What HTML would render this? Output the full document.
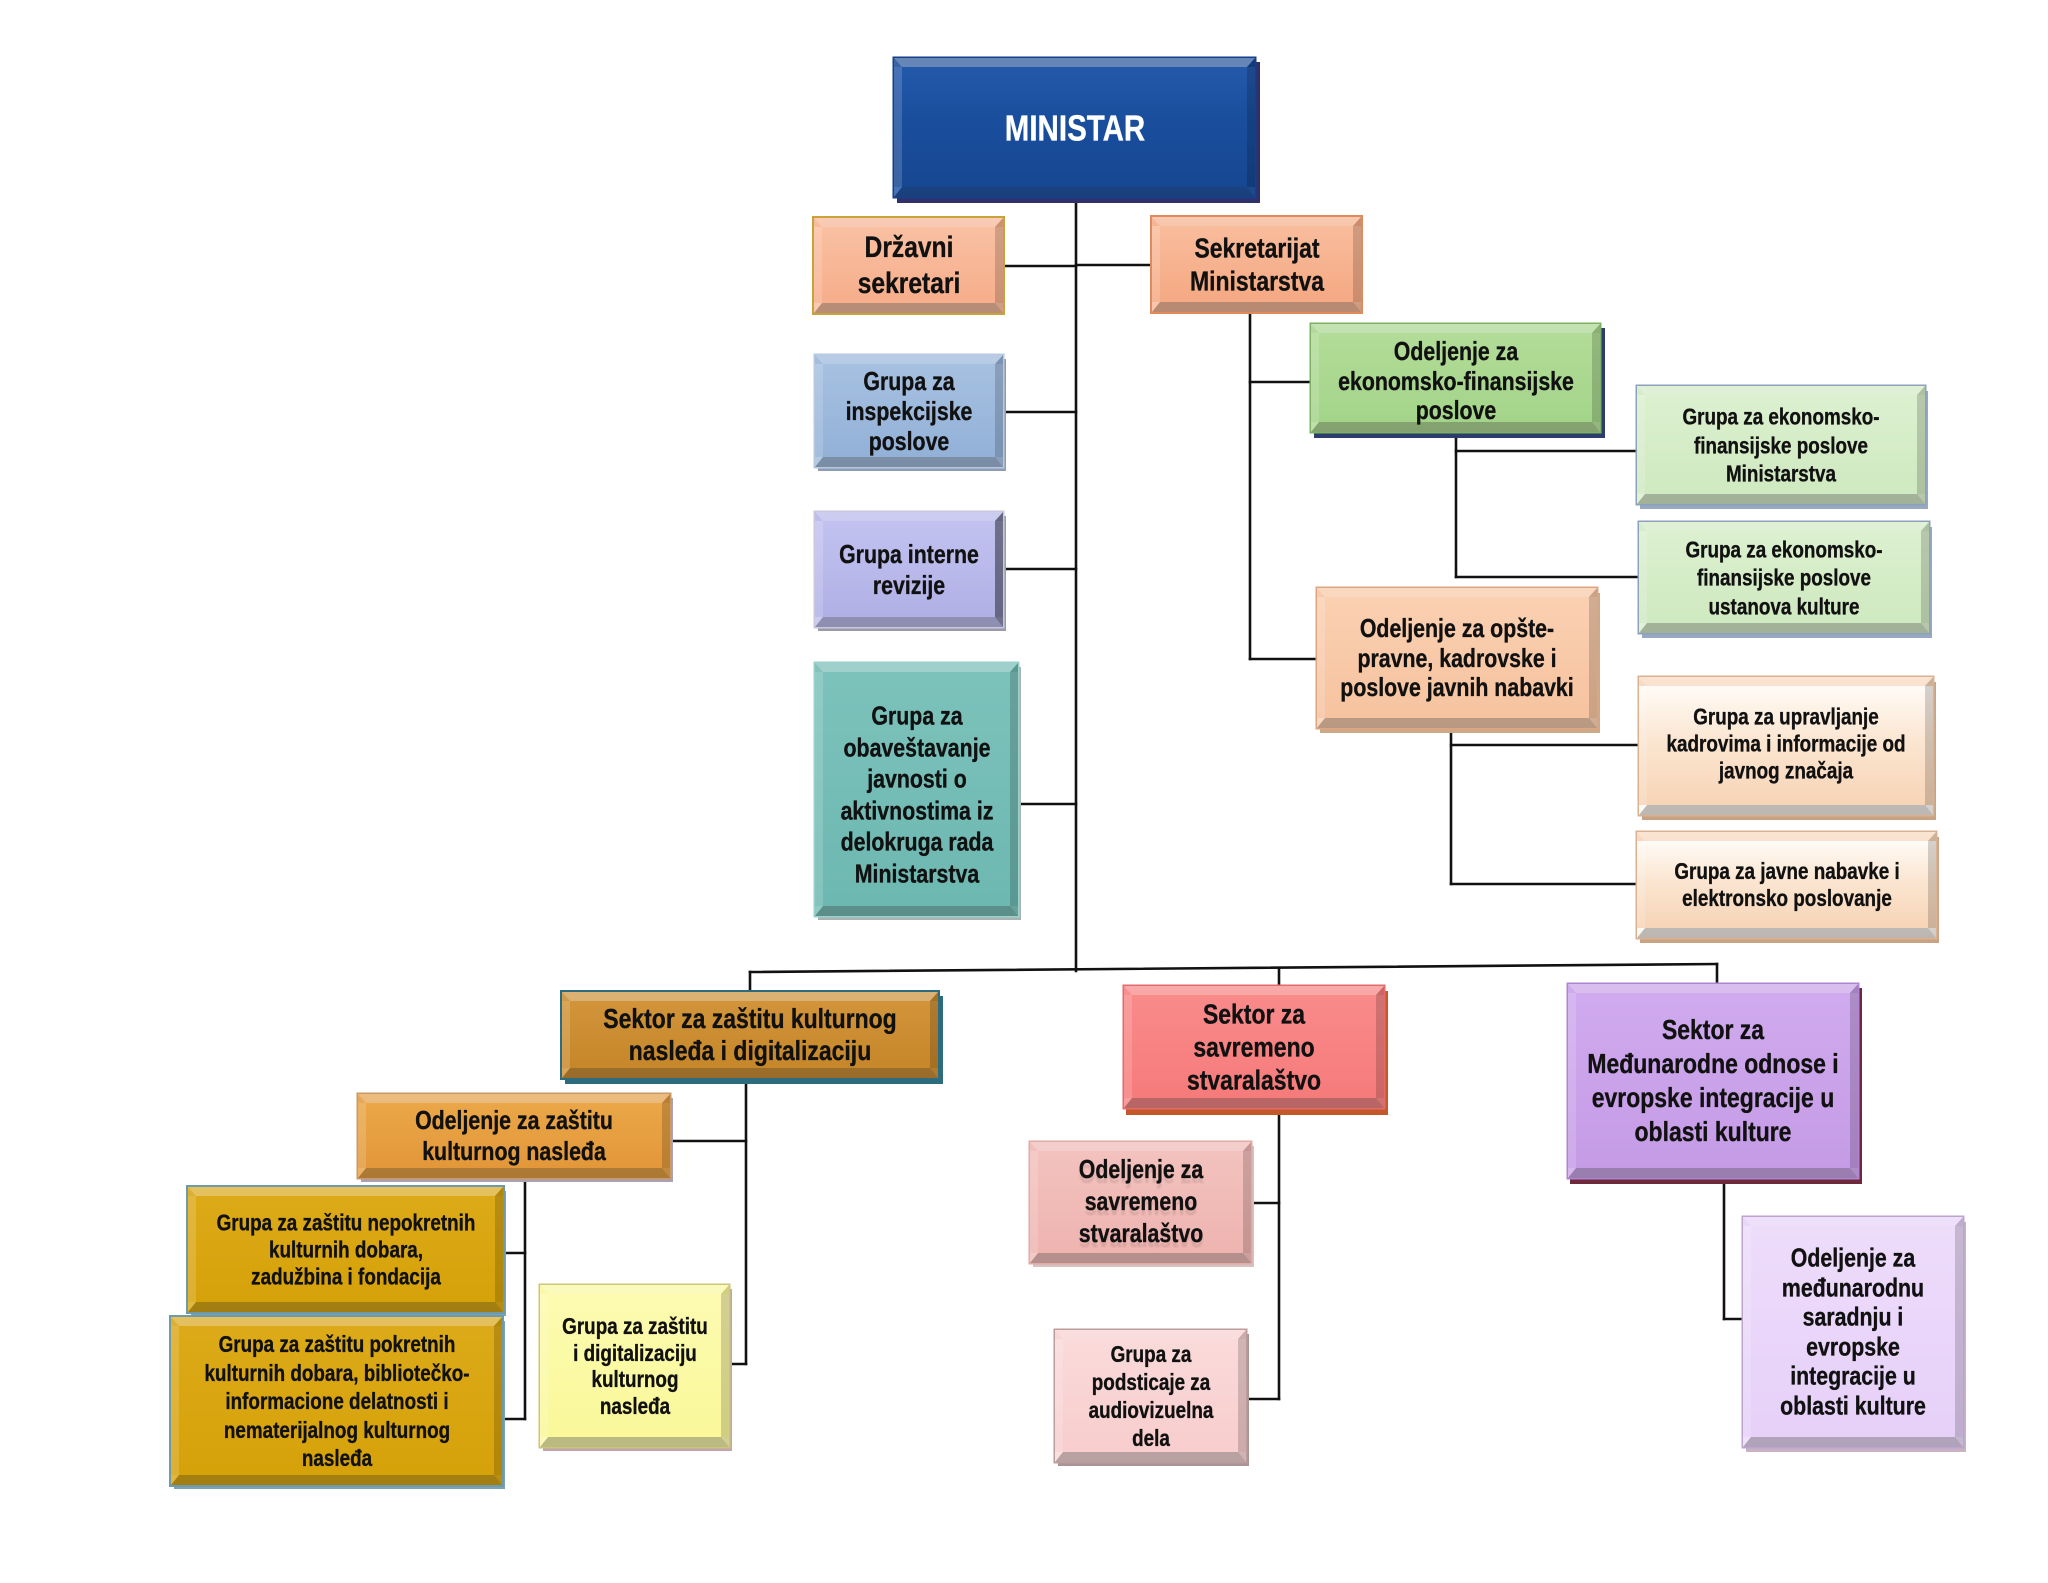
<!DOCTYPE html>
<html>
<head>
<meta charset="utf-8">
<style>
html,body{margin:0;padding:0;background:#fff;}
#c{position:relative;width:2048px;height:1583px;overflow:hidden;background:#fff;}
svg{position:absolute;left:0;top:0;}
.b{position:absolute;box-sizing:border-box;border-style:solid;border-width:9px 8px 10px 8px;
border-color:rgba(255,255,255,.34) rgba(0,0,0,.17) rgba(0,0,0,.26) rgba(255,255,255,.16);
background-origin:border-box;}
.t{position:absolute;transform:translate(-50%,-50%) scaleX(.82);white-space:nowrap;text-align:center;
font-family:"Liberation Sans",Arial,sans-serif;font-weight:bold;color:#111;line-height:1.2;
-webkit-text-stroke:0.35px #111;}
</style>
</head>
<body>
<div id="c">
<svg width="2048" height="1583" viewBox="0 0 2048 1583">
<g stroke="#111" stroke-width="2.6" fill="none" stroke-linecap="square">
<line x1="1076" y1="197" x2="1076" y2="971"/>
<line x1="1003" y1="266" x2="1076" y2="266"/>
<line x1="1076" y1="265" x2="1152" y2="265"/>
<line x1="1003" y1="412" x2="1076" y2="412"/>
<line x1="1003" y1="569" x2="1076" y2="569"/>
<line x1="1018" y1="804" x2="1076" y2="804"/>
<line x1="1250" y1="312" x2="1250" y2="659"/>
<line x1="1250" y1="382" x2="1311" y2="382"/>
<line x1="1250" y1="659" x2="1317" y2="659"/>
<line x1="1456" y1="432" x2="1456" y2="577"/>
<line x1="1456" y1="451" x2="1637" y2="451"/>
<line x1="1456" y1="577" x2="1639" y2="577"/>
<line x1="1451" y1="728" x2="1451" y2="884"/>
<line x1="1451" y1="745" x2="1639" y2="745"/>
<line x1="1451" y1="884" x2="1637" y2="884"/>
<line x1="750" y1="972" x2="1717" y2="964"/>
<line x1="750" y1="972" x2="750" y2="992"/>
<line x1="1279" y1="968" x2="1279" y2="986"/>
<line x1="1717" y1="964" x2="1717" y2="984"/>
<line x1="746" y1="1078" x2="746" y2="1364"/>
<line x1="670" y1="1141" x2="746" y2="1141"/>
<line x1="729" y1="1364" x2="746" y2="1364"/>
<line x1="525" y1="1178" x2="525" y2="1419"/>
<line x1="503" y1="1253" x2="525" y2="1253"/>
<line x1="502" y1="1419" x2="525" y2="1419"/>
<line x1="1279" y1="1108" x2="1279" y2="1399"/>
<line x1="1251" y1="1203" x2="1279" y2="1203"/>
<line x1="1246" y1="1399" x2="1279" y2="1399"/>
<line x1="1724" y1="1178" x2="1724" y2="1319"/>
<line x1="1724" y1="1319" x2="1743" y2="1319"/>
</g>
</svg>

<div class="b" style="left:894px;top:58px;width:361px;height:139px;background:linear-gradient(#2459aa,#1a4f9e 40%,#164792);box-shadow:0 0 0 1.5px #163e8a,4px 5px 0 1px #30306a;"></div>
<div class="t" style="left:1075px;top:128px;font-size:36px;color:#fff;-webkit-text-stroke:0.35px #fff;">MINISTAR</div>

<div class="b" style="left:814px;top:218px;width:189px;height:95px;background:linear-gradient(#f9c0a2,#f6ae8b);box-shadow:0 0 0 2px #c9a23a;"></div>
<div class="t" style="left:908.5px;top:265.5px;font-size:30px;">Državni<br>sekretari</div>

<div class="b" style="left:1152px;top:217px;width:209px;height:95px;background:linear-gradient(#f9bc9c,#f4a983);box-shadow:0 0 0 2px #e08a5e;"></div>
<div class="t" style="left:1256.5px;top:264.5px;font-size:28px;">Sekretarijat<br>Ministarstva</div>

<div class="b" style="left:815px;top:355px;width:188px;height:112px;background:linear-gradient(#a6c0e0,#93b1d8);box-shadow:0 0 0 1.5px #b8c8e0,3px 4px 0 0 #8c9cb2;"></div>
<div class="t" style="left:909px;top:411px;font-size:26px;line-height:30px;">Grupa za<br>inspekcijske<br>poslove</div>

<div class="b" style="left:815px;top:512px;width:188px;height:115px;background:linear-gradient(#c2c2f0,#b0b0e6);border-right-color:rgba(0,0,0,.42);box-shadow:0 0 0 1.5px #c8c8e0,3px 4px 0 0 #9a9aa8;"></div>
<div class="t" style="left:909px;top:569.5px;font-size:26px;line-height:31px;">Grupa interne<br>revizije</div>

<div class="b" style="left:815px;top:663px;width:203px;height:253px;background:linear-gradient(#7cc2bb,#6db8b1);box-shadow:0 0 0 1.5px #98d2ca,3px 4px 0 0 #a8b4b4;"></div>
<div class="t" style="left:916.5px;top:795px;font-size:26px;line-height:31.5px;">Grupa za<br>obaveštavanje<br>javnosti o<br>aktivnostima iz<br>delokruga rada<br>Ministarstva</div>

<div class="b" style="left:1311px;top:324px;width:289px;height:108px;background:linear-gradient(#b2dc98,#a4d48a);box-shadow:0 0 0 1.5px #7cb062,4px 5px 0 1px #2c3c6c;"></div>
<div class="t" style="left:1455.5px;top:381px;font-size:26px;line-height:29.5px;">Odeljenje za<br>ekonomsko-finansijske<br>poslove</div>

<div class="b" style="left:1637px;top:386px;width:288px;height:118px;background:linear-gradient(#dcf0d0,#cfe9c0);box-shadow:0 0 0 1.5px #8ca2bc,3px 5px 0 0 #98a8c0;"></div>
<div class="t" style="left:1781px;top:445px;font-size:23px;line-height:28.5px;">Grupa za ekonomsko-<br>finansijske poslove<br>Ministarstva</div>

<div class="b" style="left:1639px;top:522px;width:290px;height:111px;background:linear-gradient(#dcf0d0,#cfe9c0);box-shadow:0 0 0 1.5px #8ca2bc,3px 5px 0 0 #98a8c0;"></div>
<div class="t" style="left:1784px;top:577.5px;font-size:23px;line-height:28.5px;">Grupa za ekonomsko-<br>finansijske poslove<br>ustanova kulture</div>

<div class="b" style="left:1317px;top:588px;width:280px;height:140px;background:linear-gradient(#fad0b2,#f6c39f);box-shadow:0 0 0 1.5px #dca580,3px 5px 0 0 #ccaa88;"></div>
<div class="t" style="left:1457px;top:658px;font-size:26px;line-height:29.5px;">Odeljenje za opšte-<br>pravne, kadrovske i<br>poslove javnih nabavki</div>

<div class="b" style="left:1639px;top:677px;width:294px;height:138px;background:linear-gradient(#fffbf6,#fbe6d2 45%,#f7d4b6);box-shadow:0 0 0 1.5px #dab292,3px 5px 0 0 #c8a282;"></div>
<div class="t" style="left:1786px;top:744px;font-size:23px;line-height:27px;">Grupa za upravljanje<br>kadrovima i informacije od<br>javnog značaja</div>

<div class="b" style="left:1637px;top:832px;width:299px;height:106px;background:linear-gradient(#fffbf6,#fbe6d2 45%,#f7d4b6);box-shadow:0 0 0 1.5px #dab292,3px 5px 0 0 #c8a282;"></div>
<div class="t" style="left:1786.5px;top:885px;font-size:23px;line-height:27px;">Grupa za javne nabavke i<br>elektronsko poslovanje</div>

<div class="b" style="left:562px;top:992px;width:376px;height:86px;background:linear-gradient(#d2943a,#c6872a);box-shadow:0 0 0 2px #2c6c7e,4px 5px 0 1px #2c6c7e;"></div>
<div class="t" style="left:750px;top:1035px;font-size:28px;line-height:32px;">Sektor za zaštitu kulturnog<br>nasleđa i digitalizaciju</div>

<div class="b" style="left:1124px;top:986px;width:260px;height:122px;background:linear-gradient(#f98a8a,#f67b7b);box-shadow:0 0 0 1.5px #e46a6a,3px 6px 0 1px #c4582a;"></div>
<div class="t" style="left:1254px;top:1047px;font-size:28px;line-height:33px;">Sektor za<br>savremeno<br>stvaralaštvo</div>

<div class="b" style="left:1568px;top:984px;width:290px;height:194px;background:linear-gradient(#d0aaee,#c59be6);box-shadow:0 0 0 1.5px #b084d4,3px 5px 0 1px #6e2a3a;"></div>
<div class="t" style="left:1713px;top:1081px;font-size:28px;line-height:34px;">Sektor za<br>Međunarodne odnose i<br>evropske integracije u<br>oblasti kulture</div>

<div class="b" style="left:358px;top:1094px;width:312px;height:84px;background:linear-gradient(#eaa648,#e2983a);box-shadow:0 0 0 1.5px #c89a6a,3px 4px 0 0 #aaa2b4;"></div>
<div class="t" style="left:514px;top:1136px;font-size:26px;line-height:31px;">Odeljenje za zaštitu<br>kulturnog nasleđa</div>

<div class="b" style="left:188px;top:1187px;width:315px;height:125px;background:linear-gradient(#dcaa18,#d6a20a);box-shadow:0 0 0 2px #6e9aaa,3px 4px 0 0 #7aa4b2;"></div>
<div class="t" style="left:345.5px;top:1249.5px;font-size:23px;line-height:27px;">Grupa za zaštitu nepokretnih<br>kulturnih dobara,<br>zadužbina i fondacija</div>

<div class="b" style="left:171px;top:1317px;width:331px;height:168px;background:linear-gradient(#dcaa18,#d6a20a);box-shadow:0 0 0 2px #6e9aaa,3px 4px 0 0 #7aa4b2;"></div>
<div class="t" style="left:336.5px;top:1401px;font-size:23px;line-height:28.5px;">Grupa za zaštitu pokretnih<br>kulturnih dobara, bibliotečko-<br>informacione delatnosti i<br>nematerijalnog kulturnog<br>nasleđa</div>

<div class="b" style="left:540px;top:1285px;width:189px;height:162px;background:linear-gradient(#fcfbb0,#faf89a);box-shadow:0 0 0 1.5px #cdc67a,3px 4px 0 0 #c4a4ac;"></div>
<div class="t" style="left:634.5px;top:1366px;font-size:23px;line-height:26.5px;">Grupa za zaštitu<br>i digitalizaciju<br>kulturnog<br>nasleđa</div>

<div class="b" style="left:1030px;top:1142px;width:221px;height:121px;background:linear-gradient(#f3c2be,#eeb4b0);box-shadow:0 0 0 1.5px #e2aaa6,3px 4px 0 0 #d8c2be;"></div>
<div class="t" style="left:1140.5px;top:1201px;font-size:26px;line-height:32px;text-shadow:0 5px 2px rgba(0,0,0,.1);">Odeljenje za<br>savremeno<br>stvaralaštvo</div>

<div class="b" style="left:1055px;top:1330px;width:191px;height:132px;background:linear-gradient(#fadada,#f8cdcd);box-shadow:0 0 0 1.5px #bc9c9c,3px 4px 0 0 #aa9494;"></div>
<div class="t" style="left:1150.5px;top:1396px;font-size:23px;line-height:28px;">Grupa za<br>podsticaje za<br>audiovizuelna<br>dela</div>

<div class="b" style="left:1743px;top:1217px;width:220px;height:230px;background:linear-gradient(#eedcfb,#e6d0f8);box-shadow:0 0 0 1.5px #bca4cc,3px 5px 0 0 #c8b2c4;"></div>
<div class="t" style="left:1853px;top:1332px;font-size:26px;line-height:29.5px;">Odeljenje za<br>međunarodnu<br>saradnju i<br>evropske<br>integracije u<br>oblasti kulture</div>

</div>
</body>
</html>
